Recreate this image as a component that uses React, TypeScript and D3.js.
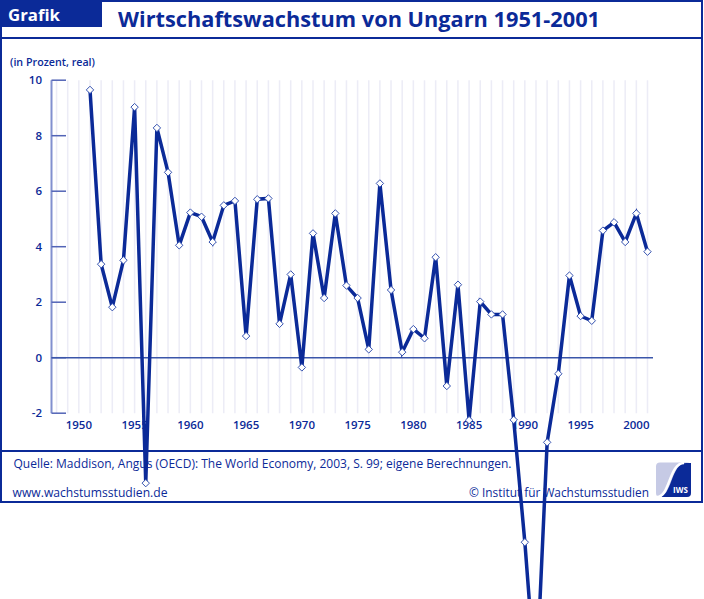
import React from "react";
import * as d3 from "d3";

const years: number[] = [
  1951, 1952, 1953, 1954, 1955, 1956, 1957, 1958, 1959, 1960,
  1961, 1962, 1963, 1964, 1965, 1966, 1967, 1968, 1969, 1970,
  1971, 1972, 1973, 1974, 1975, 1976, 1977, 1978, 1979, 1980,
  1981, 1982, 1983, 1984, 1985, 1986, 1987, 1988, 1989, 1990,
  1991, 1992, 1993, 1994, 1995, 1996, 1997, 1998, 1999, 2000, 2001,
];
const growth: number[] = [
  9.65, 3.37, 1.82, 3.51, 9.03, -4.52, 8.28, 6.68, 4.05, 5.23,
  5.08, 4.17, 5.49, 5.65, 0.78, 5.71, 5.74, 1.22, 3.0, -0.35,
  4.48, 2.15, 5.2, 2.6, 2.15, 0.3, 6.28, 2.44, 0.2, 1.03,
  0.7, 3.62, -1.02, 2.63, -2.25, 2.02, 1.56, 1.56, -2.24, -6.65,
  -11.9, -3.05, -0.58, 2.96, 1.5, 1.33, 4.58, 4.88, 4.17, 5.2, 3.82,
];
const yTicks: number[] = [-2, 0, 2, 4, 6, 8, 10];
const xTicks: number[] = [1950, 1955, 1960, 1965, 1970, 1975, 1980, 1985, 1990, 1995, 2000];
const gridYears: number[] = d3.range(1948, 2002);

const title = "Wirtschaftswachstum von Ungarn 1951-2001";
const unitLabel = "(in Prozent, real)";
const sourceText = "Quelle: Maddison, Angus (OECD): The World Economy, 2003, S. 99; eigene Berechnungen.";
const urlText = "www.wachstumsstudien.de";
const copyText = "© Institut für Wachstumsstudien";

const BLUE = "#0b2a98";
const FONT = "'Open Sans', 'DejaVu Sans', sans-serif";

export default function App() {
  const W = 704;
  const H = 599;
  const x = d3.scaleLinear().domain([1950, 2000]).range([78.85, 636.35]);
  const y = d3.scaleLinear().domain([-2, 10]).range([413.2, 80.2]);
  const pts = years.map((yr, i) => [yr, growth[i]] as [number, number]);
  const line = d3
    .line<[number, number]>()
    .x((d) => x(d[0]))
    .y((d) => y(d[1]));
  const axisX = 51.5;

  return (
    <svg
      width={W}
      height={H}
      style={{ position: "absolute", left: 0, top: 0, background: "#fff" }}
      fontFamily={FONT}
    >
      {/* frame */}
      <rect x={1} y={1} width={701} height={501} fill="none" stroke={BLUE} strokeWidth={2} />
      <line x1={1} x2={702} y1={38} y2={38} stroke={BLUE} strokeWidth={2} />
      <line x1={1} x2={702} y1={451} y2={451} stroke={BLUE} strokeWidth={2} />
      <rect x={0} y={0} width={102} height={27} fill={BLUE} />
      <text
        x={8}
        y={21}
        fill="#fff"
        fontSize={16}
        fontWeight={700}
        textLength={52}
        lengthAdjust="spacingAndGlyphs"
      >
        Grafik
      </text>
      <text
        x={118}
        y={27}
        fill={BLUE}
        fontSize={22}
        fontWeight={700}
        textLength={482}
        lengthAdjust="spacingAndGlyphs"
      >
        {title}
      </text>
      <text
        x={10}
        y={66}
        fill={BLUE}
        fontSize={10.5}
        fontWeight={600}
        textLength={85}
        lengthAdjust="spacingAndGlyphs"
      >
        {unitLabel}
      </text>

      {/* grid */}
      {gridYears.map((g) => (
        <line
          key={g}
          x1={x(g)}
          x2={x(g)}
          y1={y(10)}
          y2={y(-2)}
          stroke="#ececf6"
          strokeWidth={1.5}
        />
      ))}
      <line x1={axisX} x2={axisX} y1={y(10)} y2={y(-2)} stroke="#8190cf" strokeWidth={2} />
      {yTicks.map((t) => (
        <g key={t}>
          <line
            x1={axisX}
            x2={66}
            y1={y(t)}
            y2={y(t)}
            stroke="#5264b6"
            strokeWidth={1.5}
          />
          <text
            x={42}
            y={y(t)}
            dy="0.35em"
            textAnchor="end"
            fill={BLUE}
            fontSize={11.5}
            fontWeight={600}
          >
            {t}
          </text>
        </g>
      ))}
      <line x1={axisX} x2={653} y1={y(0)} y2={y(0)} stroke="#3b56aa" strokeWidth={1.5} />
      {xTicks.map((t) => (
        <text
          key={t}
          x={x(t)}
          y={425}
          dy="0.35em"
          textAnchor="middle"
          fill={BLUE}
          fontSize={11.5}
          fontWeight={600}
        >
          {t}
        </text>
      ))}

      {/* footer */}
      <text
        x={13.5}
        y={467.5}
        fill={BLUE}
        fontSize={12}
        textLength={498}
        lengthAdjust="spacingAndGlyphs"
      >
        {sourceText}
      </text>
      <text
        x={12.5}
        y={497}
        fill={BLUE}
        fontSize={12}
        textLength={155}
        lengthAdjust="spacingAndGlyphs"
      >
        {urlText}
      </text>
      <text
        x={469}
        y={497}
        fill={BLUE}
        fontSize={12}
        textLength={180}
        lengthAdjust="spacingAndGlyphs"
      >
        {copyText}
      </text>

      {/* logo */}
      <g>
        <rect x={656} y={462.5} width={35} height={34.5} rx={4} fill="#c6cae5" />
        <path
          d="M659,497 C672,497 671,463 686,463 L691,463 L691,493 Q691,497 687,497 Z"
          fill={BLUE}
        />
        <path
          d="M657,497 C670,497 669,463 684,463"
          fill="none"
          stroke="#fff"
          strokeWidth={2.5}
        />
        <text x={673} y={493} fill="#fff" fontSize={8} fontWeight={700}>
          IWS
        </text>
      </g>

      {/* data */}
      <path d={line(pts) ?? ""} fill="none" stroke={BLUE} strokeWidth={3.5} strokeLinejoin="miter" />
      {pts.map((d) => (
        <path
          key={d[0]}
          transform={`translate(${x(d[0])},${y(d[1])})`}
          d="M0,-3.7 L3.7,0 L0,3.7 L-3.7,0 Z"
          fill="#fff"
          stroke="#3552b0"
          strokeWidth={1}
        />
      ))}
    </svg>
  );
}
